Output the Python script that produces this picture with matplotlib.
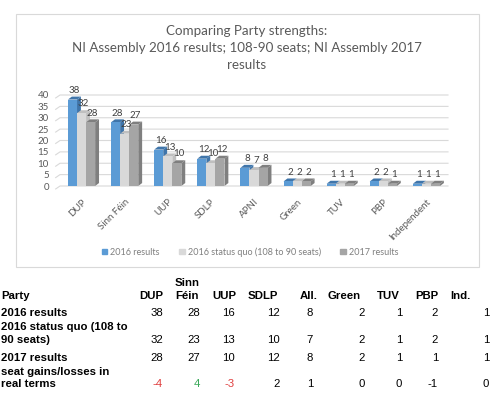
import matplotlib
matplotlib.use("Agg")
import matplotlib.pyplot as plt
from matplotlib.patches import Rectangle, Polygon, Patch

parties = ['DUP', 'Sinn Féin', 'UUP', 'SDLP', 'APNI', 'Green', 'TUV', 'PBP', 'Independent']
res_2016 = [38, 28, 16, 12, 8, 2, 1, 2, 1]
status_quo = [32, 23, 13, 10, 7, 2, 1, 2, 1]
res_2017 = [28, 27, 10, 12, 8, 2, 1, 1, 1]
series_names = ['2016 results', '2016 status quo (108 to 90 seats)', '2017 results']

table_headers = ['DUP', 'Sinn\nFéin', 'UUP', 'SDLP', 'All.', 'Green', 'TUV', 'PBP', 'Ind.']
row_labels = ['2016 results', '2016 status quo (108 to\n90 seats)', '2017 results',
              'seat gains/losses in\nreal terms']
gains = [-4, 4, -3, 2, 1, 0, 0, -1, 0]

W, H = 500, 397
fig = plt.figure(figsize=(5, 3.97), dpi=100)

def fx(px):
    return px / W

def fy(py):
    return 1 - py / H

# chart frame
fig.add_artist(Rectangle((fx(16), fy(267)), fx(463), 253 / H, transform=fig.transFigure,
                         fill=False, edgecolor='#D9D9D9', lw=0.8))

title_lines = ['Comparing Party strengths:',
               'NI Assembly 2016 results; 108-90 seats; NI Assembly 2017',
               'results']
for i, line in enumerate(title_lines):
    fig.text(fx(247), fy(31 + 17 * i), line, ha='center', va='center',
             fontsize=9.6, color='#595959', family='Lato')

ax = fig.add_axes([fx(60), fy(186), fx(388), 91 / H])
ax.set_xlim(-0.5, len(parties) - 0.5)
ax.set_ylim(0, 40)
for s in ax.spines.values():
    s.set_visible(False)

dx, dy = 0.09, 1.3
w = 0.21
# back wall gridlines with a short side-wall stub
for t in range(0, 41, 5):
    ax.plot([-0.6, -0.5, 8.5], [t - dy, t, t], color='#D9D9D9', lw=0.8,
            zorder=0, clip_on=False)

fronts = ['#5B9BD5', '#D9D9D9', '#A5A5A5']
sides = ['#3F75AA', '#BFBFBF', '#7F7F7F']
series = [res_2016, status_quo, res_2017]
for j, vals in enumerate(series):
    for i, h in enumerate(vals):
        c = i + (j - 1) * w
        x0, x1 = c - w / 2, c + w / 2
        z = 2 + j
        ax.bar(c, h, width=w, color=fronts[j], zorder=z + 0.5, edgecolor='none')
        ax.add_patch(Polygon([(x1, 0), (x1 + dx, dy), (x1 + dx, h + dy), (x1, h)],
                             closed=True, color=sides[j], zorder=z, lw=0))
        ax.add_patch(Polygon([(x0, h), (x0 + dx, h + dy), (x1 + dx, h + dy), (x1, h)],
                             closed=True, color=sides[j], zorder=z, lw=0))
        ax.text(c + dx / 2, h + dy + 0.8, str(h), ha='center', va='bottom',
                fontsize=7, color='#404040', family='Lato', zorder=10)

ax.set_yticks(range(0, 41, 5))
ax.set_xticks(range(len(parties)))
ax.set_xticklabels(parties, rotation=45, ha='right', rotation_mode='anchor')
ax.tick_params(length=0, colors='#595959', labelsize=7)
ax.tick_params(axis='y', pad=8)
ax.tick_params(axis='x', pad=8)
for lab in ax.get_xticklabels() + ax.get_yticklabels():
    lab.set_family('Lato')

handles = [Patch(color=c) for c in fronts]
fig.legend(handles, series_names, loc='center', bbox_to_anchor=(fx(250), fy(252)),
           ncol=3, frameon=False, handlelength=0.6, handleheight=0.6,
           handletextpad=0.3, columnspacing=2.2, prop={'family': 'Lato', 'size': 6.5},
           labelcolor='#7F7F7F')

# table below the chart
tfont = 'Liberation Sans'
fs = 8.2
head_x = [139, 175, 212, 248, 300, 327, 377, 415, 450]
num_x = [163, 200, 235, 280, 313, 365, 402, 438, 489]
fig.text(fx(1), fy(296), 'Party', ha='left', va='center', fontsize=fs,
         weight='bold', family=tfont)
for hx, hd in zip(head_x, table_headers):
    parts = hd.split('\n')
    ys = [283, 296] if len(parts) == 2 else [296]
    for part, yy in zip(parts, ys):
        fig.text(fx(hx), fy(yy), part, ha='left', va='center', fontsize=fs,
                 weight='bold', family=tfont)

label_y = [[313], [327, 340], [358], [372, 384]]
value_y = [313, 340, 358, 384]
rows = [res_2016, status_quo, res_2017, gains]
for r, (lab, ys) in enumerate(zip(row_labels, label_y)):
    for part, yy in zip(lab.split('\n'), ys):
        fig.text(fx(1), fy(yy), part, ha='left', va='center', fontsize=fs,
                 weight='bold', family=tfont)
    for k, v in enumerate(rows[r]):
        col = 'black'
        if r == 3 and k < 3:
            col = '#E04040' if v < 0 else '#3DAA5C'
        fig.text(fx(num_x[k]), fy(value_y[r]), str(v), ha='right', va='center',
                 fontsize=fs, family=tfont, color=col)

fig.savefig('out.png', dpi=100)
